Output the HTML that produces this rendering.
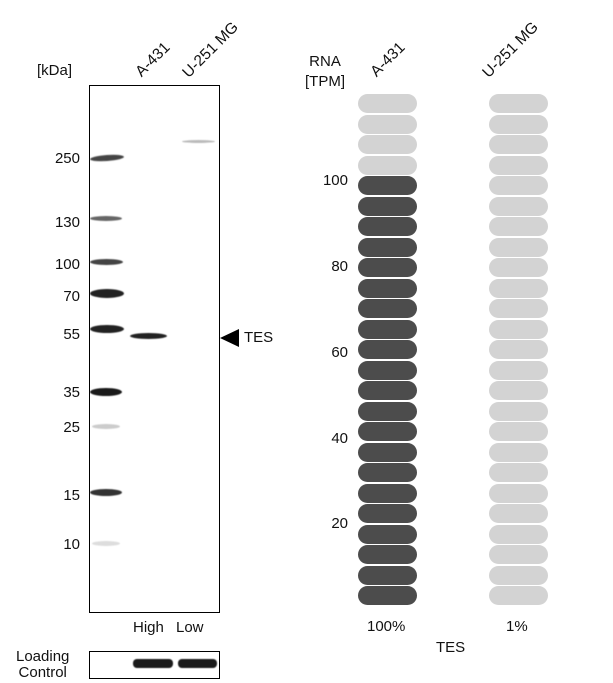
<!DOCTYPE html><html><head><style>
body{margin:0;width:613px;height:683px;background:#fff;position:relative;font-family:"Liberation Sans",sans-serif;color:#111;overflow:hidden}
.t{position:absolute;font-size:15px;white-space:nowrap}
.r{text-align:right;width:40px}
.rot{position:absolute;transform-origin:left bottom;transform:rotate(-45deg);font-size:15.5px;white-space:nowrap}
.p{position:absolute;width:59px;height:19px;border-radius:9.5px}
.b{position:absolute;border-radius:50%/50%;background:#222;filter:blur(0.6px)}
</style></head><body>
<div class="t" style="left:37px;top:62px">[kDa]</div>
<div class="rot" style="left:145px;top:63px">A-431</div>
<div class="rot" style="left:192px;top:64px">U-251 MG</div>
<div style="position:absolute;left:89px;top:85px;width:129px;height:526px;border:1px solid #000"></div>
<div class="t r" style="left:40px;top:150px">250</div>
<div class="t r" style="left:40px;top:214px">130</div>
<div class="t r" style="left:40px;top:256px">100</div>
<div class="t r" style="left:40px;top:288px">70</div>
<div class="t r" style="left:40px;top:326px">55</div>
<div class="t r" style="left:40px;top:384px">35</div>
<div class="t r" style="left:40px;top:419px">25</div>
<div class="t r" style="left:40px;top:487px">15</div>
<div class="t r" style="left:40px;top:536px">10</div>
<div class="b" style="left:90px;top:155px;width:34px;height:6px;background:#444;transform:rotate(-4deg)"></div>
<div class="b" style="left:90px;top:216px;width:32px;height:5px;background:#666"></div>
<div class="b" style="left:90px;top:259px;width:33px;height:6px;background:#444"></div>
<div class="b" style="left:90px;top:289px;width:34px;height:9px;background:#222"></div>
<div class="b" style="left:90px;top:325px;width:34px;height:8px;background:#222"></div>
<div class="b" style="left:130px;top:333px;width:37px;height:6px;background:#222"></div>
<div class="b" style="left:90px;top:388px;width:32px;height:8px;background:#1a1a1a"></div>
<div class="b" style="left:92px;top:424px;width:28px;height:5px;background:#ccc"></div>
<div class="b" style="left:90px;top:489px;width:32px;height:7px;background:#333"></div>
<div class="b" style="left:92px;top:541px;width:28px;height:5px;background:#ddd"></div>
<div class="b" style="left:182px;top:140px;width:33px;height:3px;background:#bbb"></div>
<div style="position:absolute;left:220px;top:329px;width:0;height:0;border-top:9px solid transparent;border-bottom:9px solid transparent;border-right:19px solid #000"></div>
<div class="t" style="left:244px;top:329px">TES</div>
<div class="t" style="left:133px;top:619px">High</div>
<div class="t" style="left:176px;top:619px">Low</div>
<div class="t" style="left:16px;top:649px;line-height:16px;text-align:center">Loading<br>Control</div>
<div style="position:absolute;left:89px;top:651px;width:129px;height:26px;border:1px solid #000"></div>
<div class="b" style="left:133px;top:659px;width:40px;height:9px;background:#1a1a1a;border-radius:4px"></div>
<div class="b" style="left:178px;top:659px;width:39px;height:9px;background:#1a1a1a;border-radius:4px"></div>
<div class="t" style="left:305px;top:52px;text-align:center;line-height:20px">RNA<br>[TPM]</div>
<div class="rot" style="left:380px;top:63px">A-431</div>
<div class="rot" style="left:492px;top:64px">U-251 MG</div>
<div class="t r" style="left:308px;top:172px">100</div>
<div class="t r" style="left:308px;top:258px">80</div>
<div class="t r" style="left:308px;top:344px">60</div>
<div class="t r" style="left:308px;top:430px">40</div>
<div class="t r" style="left:308px;top:515px">20</div>
<div id="pills"></div>
<div class="t" style="left:367px;top:618px">100%</div>
<div class="t" style="left:506px;top:618px">1%</div>
<div class="t" style="left:436px;top:639px">TES</div>
<script>
var h='';for(var i=0;i<25;i++){var y=94+i*20.5;h+='<div class="p" style="left:358px;top:'+y+'px;background:'+(i<4?'#d3d3d3':'#4c4c4c')+'"></div><div class="p" style="left:489px;top:'+y+'px;background:#d3d3d3"></div>';}
document.getElementById('pills').innerHTML=h;
</script>
</body></html>
